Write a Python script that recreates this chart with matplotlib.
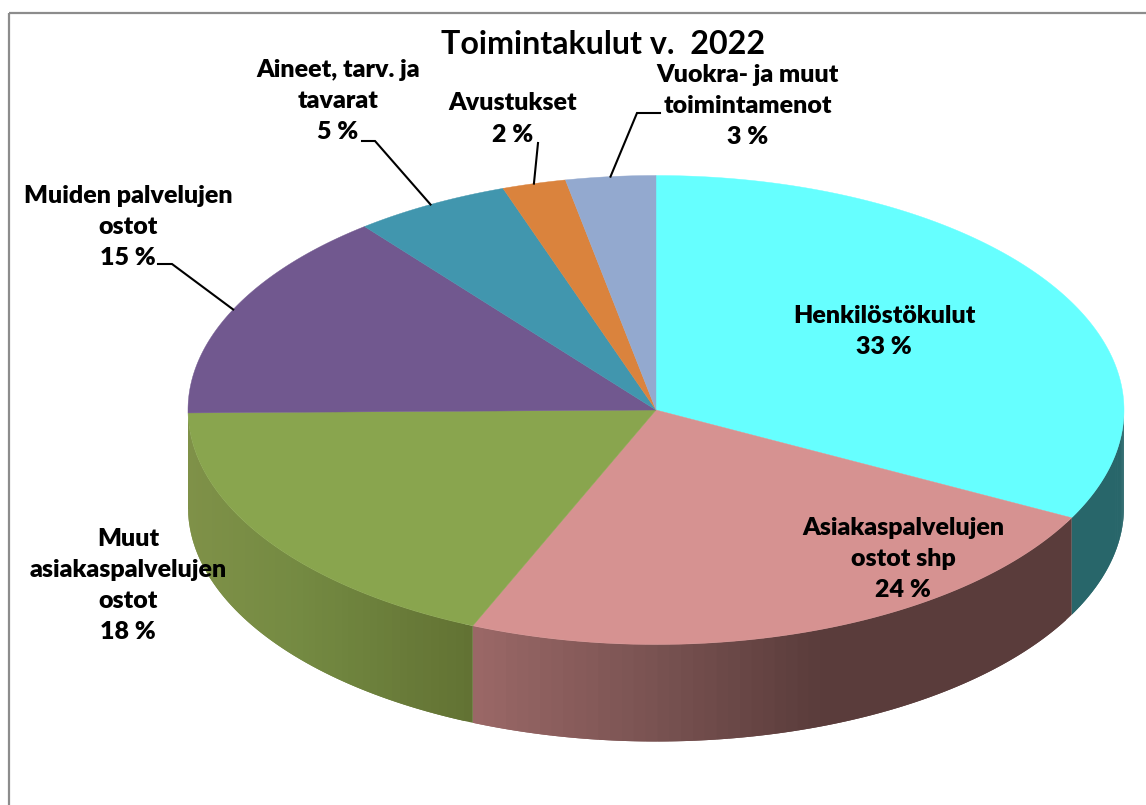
import numpy as np
import matplotlib
matplotlib.use("Agg")
import matplotlib.pyplot as plt
from matplotlib.collections import PolyCollection
from matplotlib.colors import to_rgb
from matplotlib.patches import Polygon, Rectangle

plt.rcParams['font.family'] = ['Lato', 'DejaVu Sans']

labels = ["Henkilöstökulut", "Asiakaspalvelujen\nostot shp", "Muut\nasiakaspalvelujen\nostot",
          "Muiden palvelujen\nostot", "Aineet, tarv. ja\ntavarat", "Avustukset",
          "Vuokra- ja muut\ntoimintamenot"]
# osuudet luettu kuvasta, rounded ones are what the labels print
shares = [32.6, 23.8, 18.4, 14.5, 5.4, 2.2, 3.1]
printed = [33, 24, 18, 15, 5, 2, 3]
colors = ["#66FFFF", "#D69291", "#89A54E", "#71588F", "#4196AE", "#DA833D", "#93A9CF"]

# label block centres in pixels
label_pos = [(884, 331), (903, 559), (128, 585), (128, 227), (338, 101), (513, 119), (748, 106)]
# leader start points, None = no leader
leader_start = [None, None, None, [(158, 264), (172, 264)], [(362, 141), (375, 141)],
                [(538, 143)], [(660, 113), (637, 113)]]

CX, CY = 656, 410
RX, RY = 468, 234.5
DEPTH = 97


def rim(a):
    # a = clockwise angle from the top, radians
    return CX + RX * np.sin(a), CY - RY * np.cos(a)


def side_color(i, x):
    if i == 0:
        return to_rgb("#28666A")
    if i == 1:
        return tuple(np.interp(x, [471, 650, 820], [c0, c1, c2]) for c0, c1, c2 in
                     zip(to_rgb("#9B6867"), to_rgb("#7A5352"), to_rgb("#5A3C3B")))
    return tuple(np.interp(x, [188, 300, 471], [c0, c1, c2]) for c0, c1, c2 in
                 zip(to_rgb("#7F9148"), to_rgb("#748A42"), to_rgb("#627233")))


fig = plt.figure(figsize=(11.46, 8.05), dpi=100)
ax = fig.add_axes([0, 0, 1, 1])
ax.set_xlim(0, 1146)
ax.set_ylim(805, 0)
ax.axis("off")

ax.add_patch(Rectangle((8.5, 13), 1300, 1000, fill=False, ec="#8C8C8C", lw=1.6))

edges = np.cumsum([0] + shares) / sum(shares) * 2 * np.pi

# sides first, each quad runs on under the next so no seams show
for i in range(len(shares)):
    a0, a1 = edges[i], edges[i + 1]
    a0, a1 = max(a0, np.pi / 2), min(a1, 1.5 * np.pi)
    if a1 <= a0:
        continue
    steps = np.linspace(a0, a1, 60)
    quads, cols = [], []
    for k in range(len(steps) - 1):
        xm = rim((steps[k] + steps[k + 1]) / 2)[0]
        t = np.linspace(steps[k], a1 if k >= len(steps) - 3 else steps[k + 2], 12)
        x, y = rim(t)
        quads.append(np.column_stack([np.r_[x, x[::-1]], np.r_[y, y[::-1] + DEPTH]]))
        cols.append(side_color(i, xm))
    ax.add_collection(PolyCollection(quads, facecolors=cols, edgecolors="none", zorder=2 + i * 0.01))

# top of the pie
for i in range(len(shares)):
    t = np.linspace(edges[i], edges[i + 1], 200)
    x, y = rim(t)
    pts = np.column_stack([np.r_[CX, x], np.r_[CY, y]])
    ax.add_patch(Polygon(pts, closed=True, fc=colors[i], ec=colors[i], lw=0.3, zorder=3))

# leaders
for i, start in enumerate(leader_start):
    if start is None:
        continue
    mid = (edges[i] + edges[i + 1]) / 2
    ex, ey = rim(mid)
    xs = [p[0] for p in start] + [ex]
    ys = [p[1] for p in start] + [ey]
    ax.plot(xs, ys, color="black", lw=1.5, zorder=4, solid_joinstyle="miter")

for i, name in enumerate(labels):
    ax.text(label_pos[i][0], label_pos[i][1], f"{name}\n{printed[i]} %", ha="center", va="center",
            ma="center", fontsize=18, fontweight=800, linespacing=1.5, color="black", zorder=5)

ax.text(603, 45, "Toimintakulut v.  2022", ha="center", va="center", fontsize=23.2,
        fontweight="bold", color="black", zorder=5)

fig.savefig("out.png", dpi=100)
